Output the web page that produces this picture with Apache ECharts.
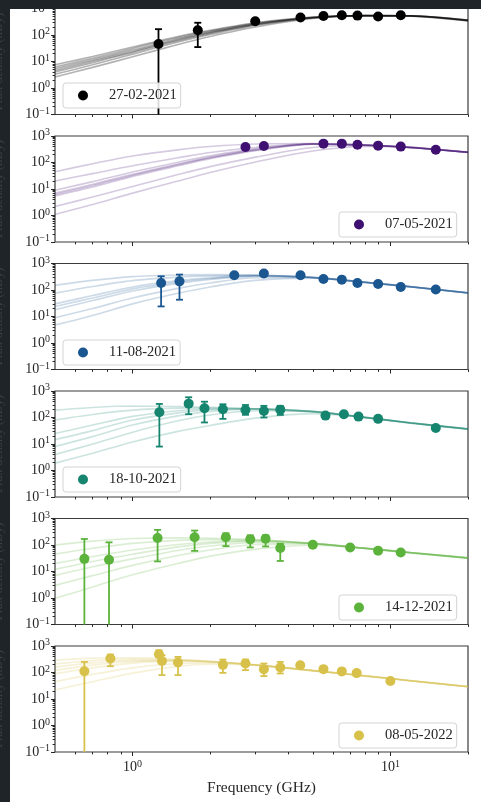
<!DOCTYPE html>
<html>
<head>
<meta charset="utf-8">
<script src="https://cdn.jsdelivr.net/npm/echarts@6/dist/echarts.min.js"></script>
<style>
  html, body { margin: 0; padding: 0; background: #1f2428; }
  #chart { width: 481px; height: 802px; }
</style>
</head>
<body>
<div id="chart"></div>
<script>
// Epochs (legend labels) and their colours
const dates = ['27-02-2021', '07-05-2021', '11-08-2021', '18-10-2021', '14-12-2021', '08-05-2022'];
const colors = ['#000000', '#3f0f72', '#1a5690', '#15856f', '#5bb33c', '#d8c14a'];

// Measured flux densities (GHz, mJy); lo/hi are error-bar ends (0 = below the plotted range, null = no bar)
const freq1 = [1.26, 1.79, 2.99, 4.48, 5.5, 6.48, 7.45, 8.96, 10.97];
const flux1 = [46, 152, 331, 457, 524, 556, 540, 497, 556];
const lo1 = [0, 35, null, null, null, null, null, null, null];
const hi1 = [166, 290, null, null, null, null, null, null, null];

const freq2 = [2.74, 3.23, 5.5, 6.48, 7.45, 8.96, 10.97, 15.0];
const flux2 = [383, 417, 515, 515, 470, 433, 398, 305];
const lo2 = [null, null, null, null, null, null, null, null];
const hi2 = [null, null, null, null, null, null, null, null];

const freq3 = [1.29, 1.52, 2.48, 3.23, 4.48, 5.5, 6.48, 7.45, 8.96, 10.97, 15.0];
const flux3 = [185, 212, 359, 417, 359, 262, 246, 185, 169, 130, 105];
const lo3 = [24, 43, null, null, null, null, null, null, null, null, null];
const hi3 = [330, 382, null, null, null, null, null, null, null, null, null];

const freq4 = [1.27, 1.65, 1.9, 2.24, 2.74, 3.23, 3.74, 5.6, 6.6, 7.52, 8.96, 15.0];
const flux4 = [158, 333, 224, 206, 193, 177, 198, 118, 133, 108, 89, 40];
const lo4 = [8, 133, 65, 89, 126, 100, 125, null, null, null, null, null];
const hi4 = [325, 580, 395, 316, 297, 275, 275, null, null, null, null, null];

const freq5 = [0.65, 0.81, 1.25, 1.74, 2.3, 2.86, 3.28, 3.74, 5.0, 6.98, 8.96, 10.97];
const flux5 = [30, 27.6, 185, 196, 196, 163, 173, 77, 102, 81, 61, 52];
const lo5 = [0, 0, 24, 60, 91, 81, 88, 25, null, null, null, null];
const hi5 = [169, 126, 372, 350, 277, 233, 233, 112, null, null, null, null];

const freq6 = [0.65, 0.82, 1.265, 1.30, 1.5, 2.24, 2.74, 3.23, 3.74, 4.47, 5.5, 6.48, 7.4, 10.0];
const flux6 = [112, 337, 488, 273, 238, 194, 218, 134, 155, 189, 134, 110, 95, 48];
const lo6 = [0, 173, 380, 80, 80, 97, 123, 73, 92, null, null, null, null, null];
const hi6 = [250, 475, 690, 450, 387, 308, 308, 218, 250, null, null, null, null, null];

// Model spectra samples, evaluated at modelFreq (GHz) -> mJy
const modelFreq = [0.5, 0.7, 1, 1.5, 2, 3, 5, 8, 12, 20];
const model1 = [
  [2.6, 6.0, 15, 44, 88, 200, 420, 540, 535, 370],
  [3.3, 7.5, 19, 54, 104, 228, 438, 542, 532, 364],
  [4.0, 9.0, 22, 61, 115, 242, 446, 540, 530, 360],
  [4.6, 10.2, 24, 66, 122, 252, 452, 540, 528, 356],
  [5.3, 11.5, 27, 72, 130, 262, 458, 538, 524, 350],
  [6.2, 13.2, 31, 80, 140, 275, 466, 536, 520, 345],
  [7.5, 15.5, 35, 88, 150, 288, 474, 534, 515, 338]
];
const model2 = [
  [5.5, 12, 30, 75, 140, 280, 490, 455, 372, 245],
  [7, 15, 36, 88, 160, 305, 498, 455, 371, 245],
  [9, 19, 44, 102, 180, 330, 505, 454, 370, 244],
  [6.2, 13.5, 33, 82, 150, 292, 494, 456, 372, 246],
  [45, 90, 175, 300, 400, 500, 520, 450, 368, 242],
  [1.1, 2.6, 7, 20, 42, 105, 270, 400, 360, 240],
  [2.2, 5.0, 12.5, 35, 70, 160, 370, 440, 366, 244],
  [20, 38, 75, 150, 240, 370, 505, 452, 369, 243]
];
const model3 = [
  [24, 50, 110, 200, 270, 340, 300, 195, 132, 78],
  [30, 62, 130, 225, 290, 348, 298, 194, 131, 77],
  [18, 40, 92, 178, 250, 330, 300, 196, 133, 78],
  [150, 230, 320, 370, 380, 365, 290, 190, 130, 77],
  [75, 135, 225, 305, 340, 358, 295, 192, 131, 77],
  [4.8, 11, 30, 75, 130, 230, 280, 196, 134, 79],
  [9, 20, 50, 115, 185, 290, 295, 197, 133, 78]
];
const model4 = [
  [14.5, 32, 80, 150, 195, 215, 170, 100, 62, 37],
  [25, 52, 110, 180, 210, 215, 168, 100, 62, 37],
  [8, 19, 52, 115, 170, 205, 170, 101, 63, 37],
  [190, 240, 270, 260, 240, 210, 162, 98, 61, 36],
  [80, 130, 190, 225, 228, 212, 165, 99, 61, 36],
  [1.9, 4.5, 12, 30, 50, 95, 140, 101, 63, 38],
  [4, 10, 28, 75, 125, 180, 168, 101, 63, 37]
];
const model5 = [
  [12, 24, 45, 85, 115, 140, 115, 75, 51, 32],
  [20, 37, 65, 105, 130, 145, 113, 74, 51, 32],
  [7, 15, 30, 62, 92, 125, 114, 75, 52, 33],
  [100, 140, 175, 185, 180, 160, 115, 73, 50, 32],
  [45, 75, 115, 150, 160, 155, 114, 74, 50, 32],
  [0.97, 2.6, 7.5, 20, 38, 70, 98, 76, 52, 33],
  [3, 7, 17, 40, 65, 105, 110, 75, 52, 33]
];
const model6 = [
  [120, 190, 260, 280, 255, 195, 118, 74, 49, 29],
  [160, 230, 285, 285, 255, 193, 117, 74, 49, 29],
  [90, 150, 225, 265, 248, 194, 118, 74, 49, 29],
  [290, 350, 360, 310, 265, 192, 115, 73, 48, 29],
  [22, 45, 95, 170, 205, 185, 120, 75, 50, 30],
  [45, 85, 150, 220, 230, 190, 119, 75, 49, 29],
  [210, 280, 320, 300, 262, 193, 116, 73, 48, 29]
];

// Axis tick positions
const xMajor = [1, 10];
const xMinor = [0.6, 0.7, 0.8, 0.9, 2, 3, 4, 5, 6, 7, 8, 9, 20];
const yMajor = [0.1, 1, 10, 100, 1000];
const yMinor = [0.2, 0.3, 0.4, 0.5, 0.6, 0.7, 0.8, 0.9, 2, 3, 4, 5, 6, 7, 8, 9,
  20, 30, 40, 50, 60, 70, 80, 90, 200, 300, 400, 500, 600, 700, 800, 900];

const panels = [
  { freq: freq1, flux: flux1, lo: lo1, hi: hi1, model: model1, legend: [63, 83] },
  { freq: freq2, flux: flux2, lo: lo2, hi: hi2, model: model2, legend: [339, 212] },
  { freq: freq3, flux: flux3, lo: lo3, hi: hi3, model: model3, legend: [63, 340] },
  { freq: freq4, flux: flux4, lo: lo4, hi: hi4, model: model4, legend: [63, 467] },
  { freq: freq5, flux: flux5, lo: lo5, hi: hi5, model: model5, legend: [339, 595] },
  { freq: freq6, flux: flux6, lo: lo6, hi: hi6, model: model6, legend: [339, 723] }
];
const lineAlpha = [0.3, 0.22, 0.22, 0.22, 0.22, 0.22];

const FONT = 'Liberation Serif';
const INK = '#262626';
const gridTops = [8.5, 136, 263.5, 391, 518.5, 646];

function powLabel(v) {
  const e = Math.round(Math.log10(v));
  return '{b|10}{s|' + (e < 0 ? '\u2212' + (-e) : e) + '}';
}
const powRich = {
  b: { fontFamily: FONT, fontSize: 14, color: INK },
  s: { fontFamily: FONT, fontSize: 10, color: INK, padding: [0, 0, 7, 0] }
};

const grids = [], xAxes = [], yAxes = [], legends = [], series = [];

panels.forEach((p, i) => {
  const color = colors[i];
  const last = i === panels.length - 1;
  grids.push({ left: 55, top: gridTops[i], width: 413, height: 106, show: true,
    outerBoundsMode: 'none', containLabel: false,
    borderColor: '#3a3a3a', borderWidth: 1.2, backgroundColor: 'transparent' });

  xAxes.push({ type: 'log', logBase: 10, gridIndex: i, position: 'bottom', min: 0.5, max: 20,
    axisLine: { show: false }, splitLine: { show: false },
    axisTick: { show: true, length: 4, customValues: xMajor, lineStyle: { color: INK, width: 1 } },
    axisLabel: { show: last, customValues: xMajor, formatter: powLabel, rich: powRich, margin: 7 },
    name: last ? 'Frequency (GHz)' : '', nameLocation: 'middle', nameGap: 28,
    nameTextStyle: { fontFamily: FONT, fontSize: 15.5, color: INK } });
  xAxes.push({ type: 'log', logBase: 10, gridIndex: i, position: 'bottom', min: 0.5, max: 20,
    axisLine: { show: false }, splitLine: { show: false },
    axisTick: { show: true, length: 2.4, customValues: xMinor, lineStyle: { color: INK, width: 1 } },
    axisLabel: { show: false, customValues: xMinor } });

  yAxes.push({ type: 'log', logBase: 10, gridIndex: i, position: 'left', min: 0.1, max: 1000,
    axisLine: { show: false }, splitLine: { show: false },
    axisTick: { show: true, length: 4, customValues: yMajor, lineStyle: { color: INK, width: 1 } },
    axisLabel: { customValues: yMajor, formatter: powLabel, rich: powRich, margin: 5 },
    name: 'Flux density (mJy)', nameLocation: 'middle', nameGap: 50, nameRotate: 90,
    nameTextStyle: { fontFamily: FONT, fontSize: 13, color: '#3a4046' } });
  yAxes.push({ type: 'log', logBase: 10, gridIndex: i, position: 'left', min: 0.1, max: 1000,
    axisLine: { show: false }, splitLine: { show: false },
    axisTick: { show: true, length: 2.4, customValues: yMinor, lineStyle: { color: INK, width: 1 } },
    axisLabel: { show: false, customValues: yMinor } });

  const xi = 2 * i, yi = 2 * i;

  p.model.forEach(curve => {
    series.push({ type: 'line', xAxisIndex: xi, yAxisIndex: yi, silent: true, z: 1,
      data: modelFreq.map((f, k) => [f, curve[k]]),
      smooth: 0.3, symbol: 'none', showSymbol: false,
      lineStyle: { color: color, width: 1.6, opacity: lineAlpha[i] } });
  });

  const errData = [];
  p.freq.forEach((f, k) => {
    if (p.hi[k] != null) errData.push([f, p.flux[k], p.lo[k], p.hi[k]]);
  });
  series.push({ type: 'custom', xAxisIndex: xi, yAxisIndex: yi, z: 3, silent: true,
    encode: { x: 0, y: 1 },
    data: errData,
    renderItem: (params, api) => {
      const f = api.value(0), lo = api.value(2), hi = api.value(3);
      const top = api.coord([f, hi]);
      const bot = lo > 0 ? api.coord([f, lo]) : api.coord([f, 0.1]);
      const st = { stroke: color, lineWidth: 1.8 };
      const kids = [
        { type: 'line', shape: { x1: top[0], y1: top[1], x2: bot[0], y2: bot[1] }, style: st },
        { type: 'line', shape: { x1: top[0] - 3.5, y1: top[1], x2: top[0] + 3.5, y2: top[1] }, style: st }
      ];
      if (lo > 0) kids.push({ type: 'line', shape: { x1: bot[0] - 3.5, y1: bot[1], x2: bot[0] + 3.5, y2: bot[1] }, style: st });
      return { type: 'group', children: kids };
    } });

  series.push({ type: 'scatter', name: dates[i], xAxisIndex: xi, yAxisIndex: yi, z: 4,
    data: p.freq.map((f, k) => [f, p.flux[k]]),
    symbol: 'circle', symbolSize: 10, itemStyle: { color: color, opacity: 1 } });

  legends.push({ data: [dates[i]], left: p.legend[0], top: p.legend[1],
    orient: 'horizontal', icon: 'circle', itemWidth: 42, itemHeight: 10,
    backgroundColor: 'rgba(255,255,255,0.85)', borderColor: '#d4d4d4', borderWidth: 1, borderRadius: 3,
    padding: [5, 4, 5, 15], selectedMode: false,
    textStyle: { fontFamily: FONT, fontSize: 14.5, color: INK } });
});

const chart = echarts.init(document.getElementById('chart'), null, { renderer: 'canvas' });
chart.setOption({
  backgroundColor: '#1f2428',
  animation: false,
  graphic: { elements: [
    { type: 'rect', silent: true, z: -10, shape: { x: 10, y: 0, width: 471, height: 802 }, style: { fill: '#ffffff' } },
    { type: 'rect', silent: true, z: 100, shape: { x: 0, y: 0, width: 481, height: 9 }, style: { fill: '#1f2428' } }
  ] },
  grid: grids,
  xAxis: xAxes,
  yAxis: yAxes,
  legend: legends,
  series: series
});
</script>
</body>
</html>
